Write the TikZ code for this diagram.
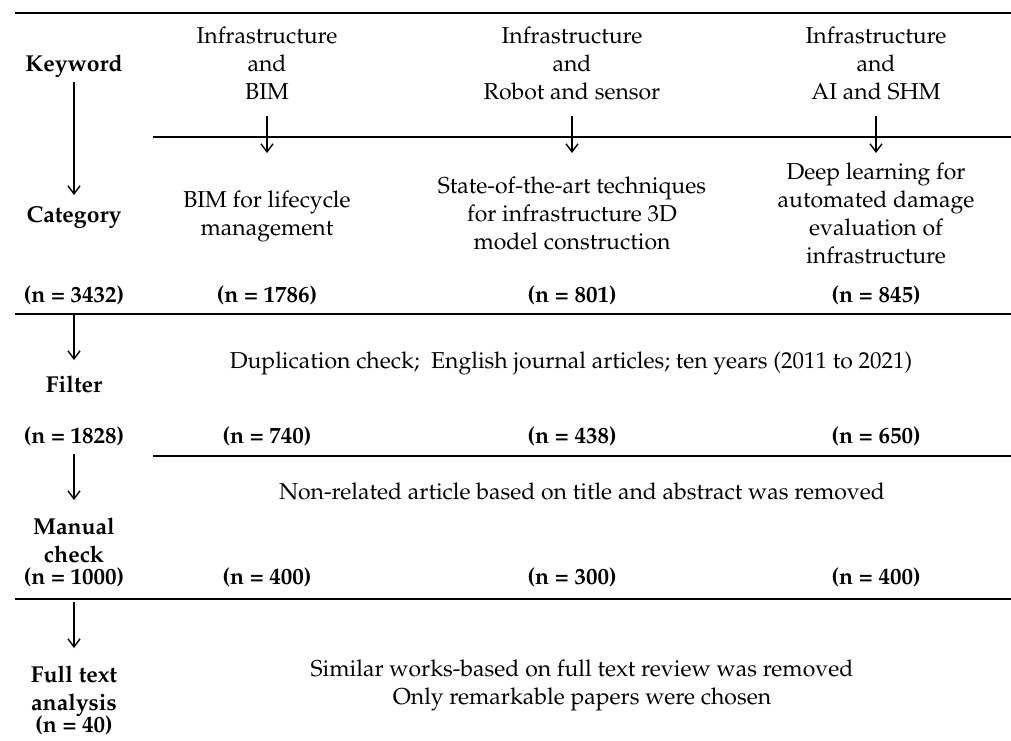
\documentclass[tikz,border=0pt]{standalone}
\usepackage[T1]{fontenc}
\renewcommand{\rmdefault}{ppl}
\usetikzlibrary{arrows.meta}
\begin{document}
\begin{tikzpicture}[x=1pt,y=-1pt,
  txt/.style={font=\fontsize{23}{28}\selectfont, align=center, inner sep=0pt, anchor=base},
  bld/.style={font=\fontsize{23}{28}\selectfont\bfseries, align=center, inner sep=0pt, anchor=base},
  rule/.style={line width=1.6pt},
  flow/.style={line width=1.4pt,-{Straight Barb[length=8pt,width=12pt,line width=1.4pt]}}]
\useasboundingbox (0,0) rectangle (1011,740);
% rules
\coordinate (r1a) at (15,13);   \coordinate (r1b) at (1011,13);
\coordinate (r2a) at (153,137); \coordinate (r2b) at (1011,137);
\coordinate (r3a) at (15,314);  \coordinate (r3b) at (1011,314);
\coordinate (r4a) at (153,456); \coordinate (r4b) at (1011,456);
\coordinate (r5a) at (15,599);  \coordinate (r5b) at (1011,599);
\draw[rule] (r1a) -- (r1b);
\draw[rule] (r2a) -- (r2b);
\draw[rule] (r3a) -- (r3b);
\draw[rule] (r4a) -- (r4b);
\draw[rule] (r5a) -- (r5b);
% left column
\node[bld] (kw) at (74,71) {Keyword};
\node[bld] (cat) at (74,222) {Category};
\node[bld] (n0) at (74,302) {(n = 3432)};
\node[bld] (filt) at (74,392) {Filter};
\node[bld] (n1) at (74,443) {(n = 1828)};
\node[bld] (man) at (74,534) {Manual};
\node[bld] (chk) at (74,562) {check};
\node[bld] (n2) at (74,584) {(n = 1000)};
\node[bld] (full) at (74,682) {Full text};
\node[bld] (ana) at (74,710) {analysis};
\node[bld] (n3) at (74,732) {(n = 40)};
% keywords (base anchor = last line)
\node[txt] (k1) at (267,99) {Infrastructure\\and\\BIM};
\node[txt] (k2) at (572,99) {Infrastructure\\and\\Robot and sensor};
\node[txt] (k3) at (876,99) {Infrastructure\\and\\AI and SHM};
% categories
\node[txt] (c1) at (267,235) {BIM for lifecycle\\management};
\node[txt] (c2) at (572,249) {State-of-the-art techniques\\for infrastructure 3D\\model construction};
\node[txt] (c3) at (876,263) {Deep learning for\\automated damage\\evaluation of\\infrastructure};
% counts
\node[bld] (a1) at (267,302) {(n = 1786)};
\node[bld] (a2) at (572,302) {(n = 801)};
\node[bld] (a3) at (876,302) {(n = 845)};
\node[bld] (b1) at (267,443) {(n = 740)};
\node[bld] (b2) at (572,443) {(n = 438)};
\node[bld] (b3) at (876,443) {(n = 650)};
\node[bld] (d1) at (267,584) {(n = 400)};
\node[bld] (d2) at (572,584) {(n = 300)};
\node[bld] (d3) at (876,584) {(n = 400)};
% step descriptions
\node[txt] (f) at (571,368) {Duplication check;\ \ English journal articles; ten years (2011 to 2021)};
\node[txt] (m) at (582,499) {Non-related article based on title and abstract was removed};
\node[txt] (s) at (582,704) {Similar works-based on full text review was removed\\Only remarkable papers were chosen};
% arrow endpoints
\coordinate (ka) at (74,82);  \coordinate (kb) at (74,195);
\coordinate (fa) at (74,314); \coordinate (fb) at (74,360);
\coordinate (ma) at (74,454); \coordinate (mb) at (74,500);
\coordinate (ua) at (74,602); \coordinate (ub) at (74,648);
\coordinate (x1a) at (267,116); \coordinate (x1b) at (267,153);
\coordinate (x2a) at (572,116); \coordinate (x2b) at (572,153);
\coordinate (x3a) at (876,116); \coordinate (x3b) at (876,153);
\draw[flow] (ka) -- (kb);
\draw[flow] (fa) -- (fb);
\draw[flow] (ma) -- (mb);
\draw[flow] (ua) -- (ub);
\draw[flow] (x1a) -- (x1b);
\draw[flow] (x2a) -- (x2b);
\draw[flow] (x3a) -- (x3b);
\end{tikzpicture}
\end{document}
